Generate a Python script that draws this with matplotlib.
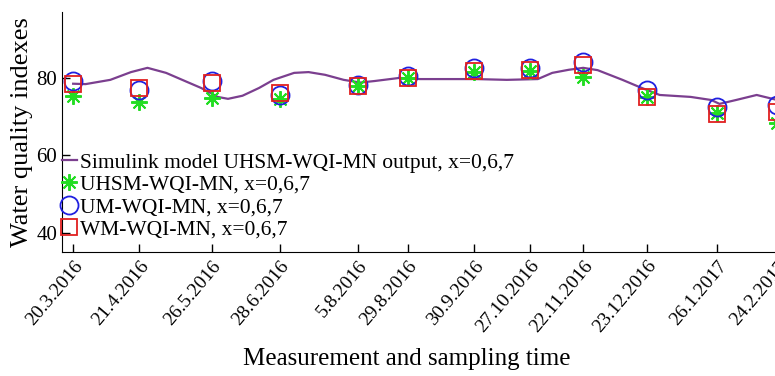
#! /usr/bin/env python3

import matplotlib
matplotlib.use('Agg')
import matplotlib.pyplot as plt

# Sampling dates (days after 20.3.2016) and labels
dates = ['20.3.2016', '21.4.2016', '26.5.2016', '28.6.2016', '5.8.2016', '29.8.2016',
         '30.9.2016', '27.10.2016', '22.11.2016', '23.12.2016', '26.1.2017', '24.2.2017']
days = [0, 32, 67, 100, 138, 162, 194, 221, 247, 278, 312, 341]

# Index values
uhsm = [75.3, 73.7, 74.8, 74.5, 78.0, 79.9, 81.6, 81.7, 80.2, 75.0, 70.9, 68.3]
um = [79.1, 76.9, 79.3, 75.5, 78.2, 80.6, 82.5, 82.6, 84.0, 76.8, 72.5, 72.9]
wm = [78.4, 77.4, 78.8, 76.2, 78.0, 80.0, 81.9, 82.0, 83.3, 75.0, 70.6, 71.2]

# Simulink model output curve
sim_days = [0, 6, 18, 28, 36, 45, 55, 62, 70, 75, 82, 90, 97, 107, 114, 122, 131,
            139, 146, 158, 168, 181, 195, 210, 225, 232, 240, 247, 254, 266, 274,
            284, 299, 309, 313, 321, 331, 341]
sim_out = [78.5, 78.4, 79.5, 81.5, 82.6, 81.3, 79.0, 77.4, 75.1, 74.6, 75.4, 77.4,
           79.5, 81.3, 81.5, 80.8, 79.5, 78.8, 79.2, 80.0, 79.7, 79.7, 79.7, 79.5,
           79.7, 81.3, 82.1, 82.6, 82.0, 79.5, 77.7, 75.6, 75.1, 74.3, 73.3, 74.3,
           75.6, 74.3]

plt.rcParams['font.family'] = ['Liberation Serif', 'DejaVu Serif']

fig = plt.figure(figsize=(7.75, 3.76), dpi=100)
ax = fig.add_axes([0.080, 0.330, 0.935, 0.638])

ax.plot(sim_days, sim_out, color='#7b3f8f', linewidth=1.6,
        label='Simulink model UHSM-WQI-MN output, x=0,6,7')
ax.plot(days, uhsm, linestyle='none', marker=(8, 2, 0), markersize=12,
        markeredgewidth=1.4, color='#22dd22', label='UHSM-WQI-MN, x=0,6,7')
ax.plot(days, um, linestyle='none', marker='o', markersize=13,
        markerfacecolor='none', markeredgecolor='#2020e0', markeredgewidth=1.3,
        label='UM-WQI-MN, x=0,6,7')
ax.plot(days, wm, linestyle='none', marker='s', markersize=11,
        markerfacecolor='none', markeredgecolor='#e02020', markeredgewidth=1.3,
        label='WM-WQI-MN, x=0,6,7')

ax.set_xlim(-5.4, 345.5)
ax.set_ylim(35.1, 97.0)

ax.spines['top'].set_visible(False)
ax.spines['right'].set_visible(False)

ax.set_yticks([40, 60, 80])
ax.set_xticks(days)
ax.set_xticklabels(dates, rotation=50, ha='right', rotation_mode='anchor')
ax.tick_params(direction='in', length=6, width=1, labelsize=15)
ax.tick_params(axis='x', labelsize=14, pad=4)

ax.set_ylabel('Water quality indexes', fontsize=19, labelpad=2)
ax.set_xlabel('Measurement and sampling time', fontsize=18, labelpad=-2)
ax.xaxis.set_label_coords(0.476, -0.40)

ax.legend(loc='upper left', bbox_to_anchor=(-0.012, 0.45), frameon=False,
          fontsize=15.5, handlelength=0.7, handletextpad=0.15,
          labelspacing=0.1, borderaxespad=0)

fig.savefig('out.png', dpi=100)
